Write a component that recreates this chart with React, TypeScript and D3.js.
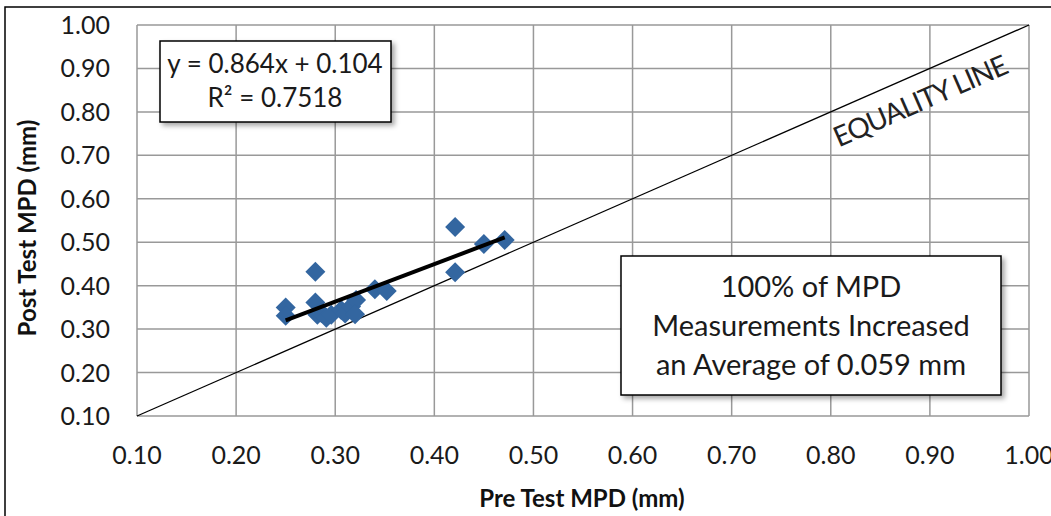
import * as d3 from "d3";

// Pre / post test MPD values (mm)
const preMPD = [0.25, 0.25, 0.28, 0.28, 0.282, 0.286, 0.291, 0.296, 0.306, 0.31, 0.316, 0.321, 0.32, 0.34, 0.352, 0.421, 0.421, 0.45, 0.471];
const postMPD = [0.35, 0.331, 0.432, 0.361, 0.333, 0.337, 0.326, 0.333, 0.344, 0.336, 0.352, 0.367, 0.334, 0.392, 0.388, 0.535, 0.431, 0.496, 0.505];

const tickValues = [0.1, 0.2, 0.3, 0.4, 0.5, 0.6, 0.7, 0.8, 0.9, 1.0];
const trendSlope = 0.864;
const trendIntercept = 0.104;
const equationLines = ["y = 0.864x + 0.104", "R² = 0.7518"];
const noteLines = ["100% of MPD", "Measurements Increased", "an Average of 0.059 mm"];

const W = 1051;
const H = 516;
const plot = { left: 137, right: 1029, top: 25, bottom: 416 };
const FONT = "Lato, 'Open Sans', sans-serif";
const BLUE = "#3366a0";

export default function App() {
  const x = d3.scaleLinear().domain([0.1, 1.0]).range([plot.left, plot.right]);
  const y = d3.scaleLinear().domain([0.1, 1.0]).range([plot.bottom, plot.top]);

  const xMin = d3.min(preMPD)!;
  const xMax = d3.max(preMPD)!;
  const trend = d3.line<number>()
    .x((d) => x(d))
    .y((d) => y(trendSlope * d + trendIntercept));

  const diamond = d3.symbol().type(d3.symbolSquare).size(200)()!;

  // equality line angle in screen space
  const ang = (Math.atan2(y(1) - y(0.1), x(1) - x(0.1)) * 180) / Math.PI;

  return (
    <svg
      width={W}
      height={H}
      style={{ position: "absolute", left: 0, top: 0, background: "#fff" }}
    >
      <defs>
        <filter id="shadow" x="-10%" y="-10%" width="130%" height="140%">
          <feDropShadow dx="3" dy="3" stdDeviation="2.5" floodColor="#000" floodOpacity="0.35" />
        </filter>
      </defs>
      <rect x={5} y={7} width={1060} height={530} fill="#fff" stroke="#000" strokeWidth={1.5} />

      {/* grid */}
      <g stroke="#999" strokeWidth={1.5}>
        {tickValues.map((t) => (
          <line key={"v" + t} x1={x(t)} x2={x(t)} y1={plot.top} y2={plot.bottom} />
        ))}
        {tickValues.map((t) => (
          <line key={"h" + t} x1={plot.left} x2={plot.right} y1={y(t)} y2={y(t)} />
        ))}
      </g>

      {/* tick labels */}
      <g fontFamily={FONT} fontSize={25} fill="#1a1a1a">
        {tickValues.map((t) => (
          <text key={"yl" + t} x={110} y={y(t)} dy="0.36em" textAnchor="end">
            {t.toFixed(2)}
          </text>
        ))}
        {tickValues.map((t) => (
          <text key={"xl" + t} x={x(t)} y={464} textAnchor="middle">
            {t.toFixed(2)}
          </text>
        ))}
      </g>

      {/* axis titles */}
      <text x={582} y={507} textAnchor="middle" fontFamily={FONT} fontWeight="bold" fontSize={24} fill="#111">
        Pre Test MPD (mm)
      </text>
      <text
        transform={`translate(36,228) rotate(-90)`}
        textAnchor="middle"
        fontFamily={FONT}
        fontWeight="bold"
        fontSize={24}
        fill="#111"
      >
        Post Test MPD (mm)
      </text>

      {/* equality line */}
      <line x1={x(0.1)} y1={y(0.1)} x2={x(1)} y2={y(1)} stroke="#000" strokeWidth={1.3} />
      <text
        transform={`translate(924,110) rotate(${ang})`}
        textAnchor="middle"
        fontFamily={FONT}
        fontSize={28}
        fill="#222"
        letterSpacing={-1}
      >
        EQUALITY LINE
      </text>

      {/* points */}
      <g fill={BLUE}>
        {preMPD.map((d, i) => (
          <path key={i} d={diamond} transform={`translate(${x(d)},${y(postMPD[i])}) rotate(45)`} />
        ))}
      </g>

      {/* trend line */}
      <path d={trend([xMin, xMax])!} stroke="#000" strokeWidth={4} fill="none" />

      {/* equation box */}
      <rect x={160} y={41} width={231} height={81} fill="#fff" stroke="#000" strokeWidth={1.5} filter="url(#shadow)" />
      <g fontFamily={FONT} fontSize={26} fill="#1a1a1a" textAnchor="middle">
        <text x={275} y={73}>{equationLines[0]}</text>
        <text x={275} y={107}>{equationLines[1]}</text>
      </g>

      {/* note box */}
      <rect x={621} y={256} width={380} height={139} fill="#fff" stroke="#000" strokeWidth={1.5} filter="url(#shadow)" />
      <g fontFamily={FONT} fontSize={29} fill="#1a1a1a" textAnchor="middle">
        {noteLines.map((l, i) => (
          <text key={i} x={811} y={297 + i * 39}>{l}</text>
        ))}
      </g>
    </svg>
  );
}
